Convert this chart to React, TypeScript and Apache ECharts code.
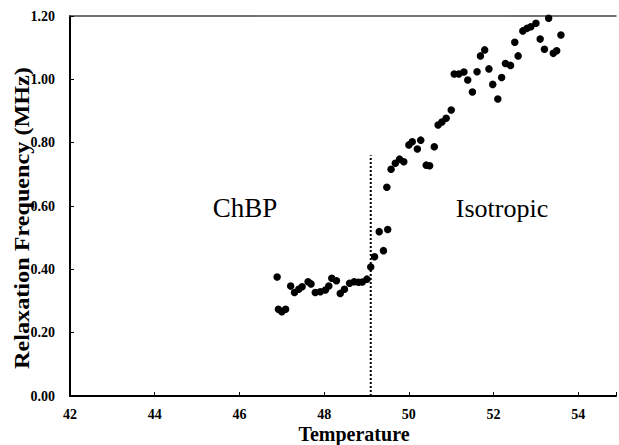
import React, { useEffect, useRef } from "react";
import * as echarts from "echarts";

const temperature: number[] = [
  46.89, 46.92, 47.0, 47.09, 47.21, 47.3, 47.4, 47.48, 47.62, 47.69,
  47.79, 47.91, 48.03, 48.11, 48.18, 48.29, 48.38, 48.48, 48.6, 48.71,
  48.81, 48.9, 49.01, 49.1, 49.19, 49.3, 49.4, 49.5, 49.48, 49.58,
  49.68, 49.78, 49.88, 50.0, 50.08, 50.2, 50.28, 50.41, 50.49, 50.6,
  50.69, 50.78, 50.88, 51.0, 51.07, 51.18, 51.3, 51.39, 51.5, 51.61,
  51.69, 51.79, 51.89, 51.98, 52.1, 52.19, 52.28, 52.4, 52.5, 52.58,
  52.69, 52.79, 52.88, 53.0, 53.1, 53.2, 53.3, 53.41, 53.49, 53.59,
];

const frequency: number[] = [
  0.376, 0.274, 0.266, 0.274, 0.347, 0.327, 0.337, 0.345, 0.361, 0.354,
  0.327, 0.329, 0.335, 0.347, 0.372, 0.364, 0.324, 0.337, 0.356, 0.361,
  0.359, 0.36, 0.369, 0.407, 0.44, 0.519, 0.459, 0.526, 0.659, 0.716,
  0.735, 0.748, 0.74, 0.793, 0.803, 0.78, 0.808, 0.729, 0.727, 0.787,
  0.856, 0.865, 0.877, 0.903, 1.017, 1.017, 1.023, 0.998, 0.96, 1.024,
  1.074, 1.093, 1.033, 0.984, 0.938, 1.006, 1.05, 1.044, 1.117, 1.074,
  1.153, 1.161, 1.166, 1.177, 1.127, 1.095, 1.193, 1.082, 1.09, 1.14,
];

const xTicks = { min: 42, max: 54.89, interval: 2 };
const yTicks = { min: 0, max: 1.2, interval: 0.2 };

const boundaryX: number[] = [49.1, 49.1];
const boundaryY: number[] = [0, 0.76];

const phaseLabels: string[] = ["ChBP", "Isotropic"];
const xTitle = "Temperature";
const yTitle = "Relaxation Frequency (MHz)";

const SERIF = "'Liberation Serif', 'Times New Roman', serif";

export default function App() {
  const ref = useRef<HTMLDivElement>(null);

  useEffect(() => {
    document.body.style.margin = "0";
    const chart = echarts.init(ref.current!, undefined, { renderer: "svg" });
    const points = temperature.map((t, i) => [t, frequency[i]]);
    const boundary = boundaryX.map((x, i) => [x, boundaryY[i]]);

    chart.setOption({
      animation: false,
      backgroundColor: "#ffffff",
      grid: { left: 70, right: 0, top: 16, bottom: 49, containLabel: false },
      xAxis: [
        {
          type: "value",
          min: xTicks.min,
          max: xTicks.max,
          interval: xTicks.interval,
          axisLine: { show: true, lineStyle: { color: "#000", width: 2 } },
          axisTick: { show: true, inside: true, length: 4, lineStyle: { color: "#000", width: 1 } },
          splitLine: { show: false },
          axisLabel: {
            margin: 11,
            color: "#000",
            fontFamily: SERIF,
            fontWeight: "bold",
            fontSize: 14,
            formatter: (v: number) =>
              Math.abs(v / 2 - Math.round(v / 2)) < 1e-6 ? String(v) : "",
          },
        },
        {
          type: "value",
          position: "top",
          min: xTicks.min,
          max: xTicks.max,
          axisLine: { show: true, lineStyle: { color: "#444", width: 1.5 } },
          axisTick: { show: false },
          axisLabel: { show: false },
          splitLine: { show: false },
        },
      ],
      yAxis: {
        type: "value",
        min: yTicks.min,
        max: yTicks.max,
        interval: yTicks.interval,
        axisLine: { show: true, lineStyle: { color: "#000", width: 2 } },
        axisTick: { show: true, inside: true, length: 4, lineStyle: { color: "#000", width: 1 } },
        splitLine: { show: false },
        axisLabel: {
          margin: 15,
          color: "#000",
          fontFamily: SERIF,
          fontWeight: "bold",
          fontSize: 14,
          formatter: (v: number) => v.toFixed(2),
        },
      },
      graphic: [
        {
          type: "text",
          x: 354,
          y: 424,
          style: {
            text: xTitle,
            font: `bold 20px ${SERIF}`,
            fill: "#000",
            textAlign: "center",
            textVerticalAlign: "top",
          },
        },
        {
          type: "text",
          x: 21,
          y: 218,
          rotation: Math.PI / 2,
          scaleX: 1.1,
          style: {
            text: yTitle,
            font: `bold 22px ${SERIF}`,
            fill: "#000",
            textAlign: "center",
            textVerticalAlign: "middle",
          },
        },
        {
          type: "text",
          x: 245,
          y: 208,
          style: {
            text: phaseLabels[0],
            font: `27px ${SERIF}`,
            fill: "#000",
            textAlign: "center",
            textVerticalAlign: "middle",
          },
        },
        {
          type: "text",
          x: 502,
          y: 208,
          style: {
            text: phaseLabels[1],
            font: `26px ${SERIF}`,
            fill: "#000",
            textAlign: "center",
            textVerticalAlign: "middle",
          },
        },
      ],
      series: [
        {
          type: "scatter",
          data: points,
          symbol: "circle",
          symbolSize: 7.5,
          itemStyle: { color: "#000", opacity: 1 },
          z: 3,
        },
        {
          type: "line",
          data: boundary,
          symbol: "none",
          lineStyle: { color: "#000", width: 2, type: [2, 2] },
          z: 2,
        },
      ],
    });
    return () => chart.dispose();
  }, []);

  return <div ref={ref} style={{ width: 619, height: 445 }} />;
}
